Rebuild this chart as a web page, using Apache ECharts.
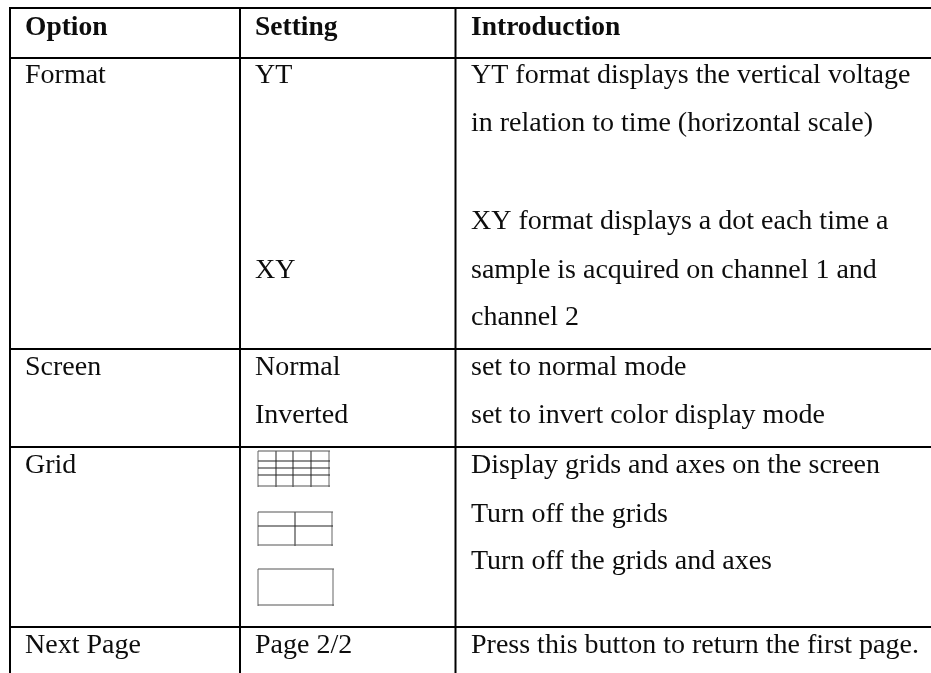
<!DOCTYPE html>
<html><head><meta charset="utf-8">
<style>html,body{margin:0;padding:0;background:#fff}#c{width:931px;height:673px}</style>
<script src="https://cdn.jsdelivr.net/npm/echarts@6/dist/echarts.min.js"></script>
</head><body><div id="c"></div>
<script>
const headers = ["Option", "Setting", "Introduction"];
const options = ["Format", "Screen", "Grid", "Next Page"];
const settings = ["YT", "XY", "Normal", "Inverted", "Page 2/2"];
const introductions = [
  "YT format displays the vertical voltage",
  "in relation to time (horizontal scale)",
  "XY format displays a dot each time a",
  "sample is acquired on channel 1 and",
  "channel 2",
  "set to normal mode",
  "set to invert color display mode",
  "Display grids and axes on the screen",
  "Turn off the grids",
  "Turn off the grids and axes",
  "Press this button to return the first page."
];
// layout (page pixels, mapped through the hidden axes)
const colX = [25, 255, 471];
const headerY = 35;
const optionY = [83, 375, 473, 653];
const settingY = [83, 278, 375, 423, 653];
const introY = [83, 131, 229, 278, 325, 375, 423, 473, 522, 569, 653];
const baselineShift = 7;
const ruleH = [[9, 931, 8], [9, 931, 58], [9, 931, 349], [9, 931, 447], [9, 931, 627]];
const ruleV = [[10, 7, 673], [240, 7, 673], [455.5, 7, 673]];
const icons = [
  {x: [258, 276, 293, 311, 329], y: [451, 461, 468, 475, 486]},
  {x: [258, 295, 332], y: [512, 526, 545]},
  {x: [258, 333], y: [569, 605]}
];

const textData = [];
headers.forEach((t, i) => textData.push([colX[i], headerY, t, 1]));
options.forEach((t, i) => textData.push([colX[0], optionY[i], t, 0]));
settings.forEach((t, i) => textData.push([colX[1], settingY[i], t, 0]));
introductions.forEach((t, i) => textData.push([colX[2], introY[i], t, 0]));

const ruleData = ruleH.map(r => [r[0], r[2], r[1], r[2], 2, '#000'])
  .concat(ruleV.map(r => [r[0], r[1], r[0], r[2], 2, '#000']));
const iconData = [];
icons.forEach(ic => {
  const xEnd = ic.x[ic.x.length - 1], yEnd = ic.y[ic.y.length - 1];
  ic.x.forEach((x, i) => iconData.push([x, ic.y[0], x, yEnd + 1, 1, (i === 0 || x === xEnd) ? '#666' : '#222']));
  ic.y.forEach((y, i) => iconData.push([ic.x[0], y, xEnd + 1, y, 1, (i === 0 || y === yEnd) ? '#555' : '#222']));
});

function drawRule(params, api) {
  const a = api.coord([api.value(0), api.value(1)]);
  const b = api.coord([api.value(2), api.value(3)]);
  const w = api.value(4);
  const horiz = a[1] === b[1];
  return {
    type: 'rect',
    shape: horiz
      ? {x: a[0], y: a[1] - w / 2, width: b[0] - a[0], height: w}
      : {x: a[0] - w / 2, y: a[1], width: w, height: b[1] - a[1]},
    style: {fill: api.value(5)}
  };
}
function drawText(params, api) {
  const p = api.coord([api.value(0), api.value(1)]);
  const bold = api.value(3);
  return {
    type: 'text',
    x: p[0], y: p[1] + baselineShift,
    style: {
      text: String(api.value(2)),
      font: (bold ? 'bold 27.5px' : '28px') + ' "Liberation Serif", serif',
      fill: '#0d0d0d',
      align: 'left',
      verticalAlign: 'bottom'
    }
  };
}
const chart = echarts.init(document.getElementById('c'), null, {renderer: 'canvas'});
chart.setOption({
  animation: false,
  backgroundColor: '#fff',
  grid: {left: 0, right: 0, top: 0, bottom: 0},
  xAxis: {type: 'value', min: 0, max: 931, show: false},
  yAxis: {type: 'value', min: 0, max: 673, inverse: true, show: false},
  series: [
    {type: 'custom', name: 'rules', renderItem: drawRule, data: ruleData, clip: false, silent: true,
     dimensions: ['x1', 'y1', 'x2', 'y2', 'w', {name: 'c', type: 'ordinal'}], encode: {x: [0, 2], y: [1, 3]}},
    {type: 'custom', name: 'icons', renderItem: drawRule, data: iconData, clip: false, silent: true,
     dimensions: ['x1', 'y1', 'x2', 'y2', 'w', {name: 'c', type: 'ordinal'}], encode: {x: [0, 2], y: [1, 3]}},
    {type: 'custom', name: 'text', renderItem: drawText, data: textData, clip: false, silent: true,
     dimensions: ['x', 'y', {name: 't', type: 'ordinal'}, 'b'], encode: {x: 0, y: 1}}
  ]
});
</script></body></html>
